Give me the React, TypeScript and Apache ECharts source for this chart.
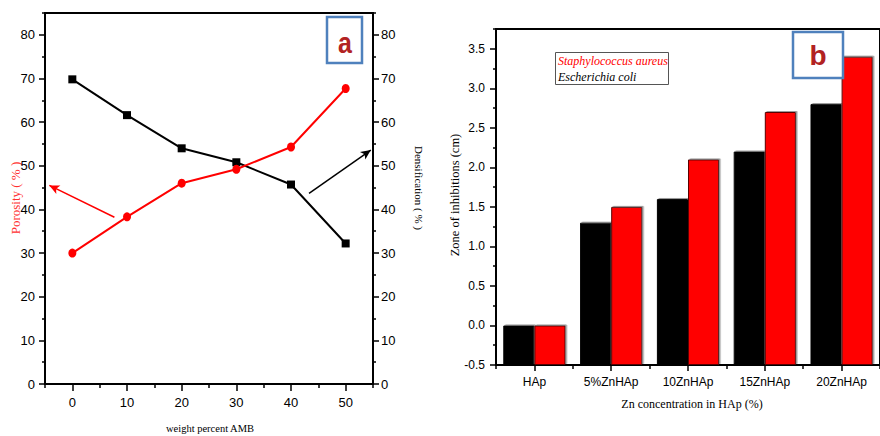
import React, { useEffect, useRef } from "react";
import * as echarts from "echarts";

// ---- Panel (a) data ----
const amb = [0, 10, 20, 30, 40, 50];
const porosity = [30, 38.3, 46, 49.2, 54.3, 67.7];
const densification = [69.8, 61.6, 54, 50.8, 45.7, 32.2];
const aXMajor = [0, 10, 20, 30, 40, 50];
const aXMinor = [-5, 5, 15, 25, 35, 45, 55];
const aYMajor = [0, 10, 20, 30, 40, 50, 60, 70, 80];
const aYMinor = [5, 15, 25, 35, 45, 55, 65, 75, 85];
const redArrow = [[7.7, 38.2], [-4.2, 45.5]];
const blackArrow = [[43.3, 43.7], [54.6, 53.6]];

// ---- Panel (b) data ----
const samples = ["HAp", "5%ZnHAp", "10ZnHAp", "15ZnHAp", "20ZnHAp"];
const eColi = [0, 1.3, 1.6, 2.2, 2.8];
const sAureus = [0, 1.5, 2.1, 2.7, 3.4];
const bYMajor = [-0.5, 0, 0.5, 1.0, 1.5, 2.0, 2.5, 3.0, 3.5];
const bYMinor = [-0.25, 0.25, 0.75, 1.25, 1.75, 2.25, 2.75, 3.25, 3.75];

const NARROW = '"Liberation Sans Narrow", "Arial Narrow", "Liberation Sans", sans-serif';
const SANS = '"Liberation Sans", Arial, sans-serif';
const SERIF = '"Liberation Serif", "Times New Roman", serif';

const axisLine = { show: true, onZero: false, lineStyle: { color: "#000", width: 2 } };

export default function App() {
  const ref = useRef<HTMLDivElement>(null);
  useEffect(() => {
    if (!ref.current) return;
    const chart = echarts.init(ref.current, undefined, { renderer: "svg" });
    const majorTick = (vals: number[], len = 6) => ({
      show: true, inside: false, length: len, customValues: vals,
      lineStyle: { color: "#000", width: 1.5 },
    });
    const option: any = {
      animation: false,
      backgroundColor: "#fff",
      grid: [
        { left: 45, top: 13, width: 328, height: 371, show: true, borderColor: "#000", borderWidth: 2, backgroundColor: "transparent" },
        { left: 496, top: 29, width: 392, height: 336, show: true, borderColor: "#000", borderWidth: 2, backgroundColor: "transparent" },
      ],
      xAxis: [
        {
          gridIndex: 0, type: "value", min: -5, max: 55, position: "bottom",
          axisLine, axisTick: majorTick(aXMajor, 7),
          axisLabel: { customValues: aXMajor, margin: 12, color: "#000", fontFamily: NARROW, fontSize: 13 },
          splitLine: { show: false },
        },
        {
          gridIndex: 0, type: "value", min: -5, max: 55, position: "bottom",
          axisLine: { show: false, onZero: false }, axisTick: majorTick(aXMinor, 4),
          axisLabel: { show: false }, splitLine: { show: false },
        },
        {
          gridIndex: 1, type: "category", data: samples, boundaryGap: true, position: "bottom",
          axisLine, axisTick: { show: true, alignWithLabel: true, length: 6, lineStyle: { color: "#000", width: 1.5 } },
          axisLabel: { margin: 11, color: "#000", fontFamily: SANS, fontSize: 12 },
        },
        {
          gridIndex: 1, type: "category", data: samples, boundaryGap: true, position: "bottom",
          axisLine: { show: false, onZero: false },
          axisTick: { show: true, length: 4, lineStyle: { color: "#000", width: 1.5 } },
          axisLabel: { show: false },
        },
      ],
      yAxis: [
        {
          gridIndex: 0, type: "value", min: 0, max: 85, position: "left",
          axisLine, axisTick: majorTick(aYMajor, 6),
          axisLabel: { customValues: aYMajor, margin: 10, color: "#000", fontFamily: NARROW, fontSize: 13 },
          splitLine: { show: false },
        },
        {
          gridIndex: 0, type: "value", min: 0, max: 85, position: "left",
          axisLine: { show: false, onZero: false }, axisTick: majorTick(aYMinor, 3),
          axisLabel: { show: false }, splitLine: { show: false },
        },
        {
          gridIndex: 0, type: "value", min: 0, max: 85, position: "right",
          axisLine, axisTick: majorTick(aYMajor, 6),
          axisLabel: { customValues: aYMajor, margin: 8, color: "#000", fontFamily: NARROW, fontSize: 13, padding: [0, 0, 5, 0] },
          splitLine: { show: false },
        },
        {
          gridIndex: 0, type: "value", min: 0, max: 85, position: "right",
          axisLine: { show: false, onZero: false }, axisTick: majorTick(aYMinor, 3),
          axisLabel: { show: false }, splitLine: { show: false },
        },
        {
          gridIndex: 1, type: "value", min: -0.5, max: 3.75, startValue: -0.5, position: "left",
          axisLine, axisTick: majorTick(bYMajor, 6),
          axisLabel: {
            customValues: bYMajor, margin: 11, color: "#000", fontFamily: SANS, fontSize: 12,
            formatter: (v: number) => v.toFixed(1),
          },
          splitLine: { show: false },
        },
        {
          gridIndex: 1, type: "value", min: -0.5, max: 3.75, position: "left",
          axisLine: { show: false, onZero: false }, axisTick: majorTick(bYMinor, 3),
          axisLabel: { show: false }, splitLine: { show: false },
        },
      ],
      series: [
        {
          type: "line", xAxisIndex: 0, yAxisIndex: 0, name: "Porosity",
          data: amb.map((x, i) => [x, porosity[i]]),
          symbol: "circle", symbolSize: [8, 9],
          lineStyle: { color: "#ff0000", width: 2 }, itemStyle: { color: "#ff0000" },
          markLine: {
            silent: true, symbol: ["none", "arrow"], symbolSize: [7, 10],
            lineStyle: { color: "#ff0000", width: 1.5, type: "solid" }, label: { show: false },
            data: [[{ coord: redArrow[0] }, { coord: redArrow[1] }]],
          },
          z: 3,
        },
        {
          type: "line", xAxisIndex: 0, yAxisIndex: 2, name: "Densification",
          data: amb.map((x, i) => [x, densification[i]]),
          symbol: "rect", symbolSize: 8,
          lineStyle: { color: "#000", width: 2 }, itemStyle: { color: "#000" },
          markLine: {
            silent: true, symbol: ["none", "arrow"], symbolSize: [7, 10],
            lineStyle: { color: "#000", width: 1.5, type: "solid" }, label: { show: false },
            data: [[{ coord: blackArrow[0] }, { coord: blackArrow[1] }]],
          },
          z: 2,
        },
        {
          type: "bar", xAxisIndex: 2, yAxisIndex: 4, name: "Escherichia coli",
          data: eColi, barGap: "0%", barCategoryGap: "19%",
          itemStyle: { color: "#000", borderColor: "#000", borderWidth: 1, shadowColor: "#9a9a9a", shadowOffsetX: 1.5, shadowOffsetY: -1, shadowBlur: 0 },
        },
        {
          type: "bar", xAxisIndex: 2, yAxisIndex: 4, name: "Staphylococcus aureus",
          data: sAureus, barGap: "0%", barCategoryGap: "19%",
          itemStyle: { color: "#ff0000", borderColor: "#5a0000", borderWidth: 1, shadowColor: "#9a9a9a", shadowOffsetX: 1.5, shadowOffsetY: -1, shadowBlur: 0 },
        },
      ],
      graphic: [
        // panel a label
        { type: "rect", shape: { x: 327, y: 17, width: 35, height: 46 }, style: { fill: "#fff", stroke: "#4f81bd", lineWidth: 2.5 }, z: 50 },
        { type: "text", x: 345, y: 43, scaleY: 1.2, style: { text: "a", fill: "#b22222", fontSize: 25, fontWeight: "bold", fontFamily: SANS, align: "center", verticalAlign: "middle" }, z: 51 },
        // panel b label
        { type: "rect", shape: { x: 793, y: 32, width: 50, height: 46 }, style: { fill: "#fff", stroke: "#4f81bd", lineWidth: 2.5 }, z: 50 },
        { type: "text", x: 818, y: 55, style: { text: "b", fill: "#b22222", fontSize: 28, fontWeight: "bold", fontFamily: SANS, align: "center", verticalAlign: "middle" }, z: 51 },
        // legend box
        { type: "rect", shape: { x: 555.5, y: 52.5, width: 113, height: 32 }, style: { fill: "#fff", stroke: "#555", lineWidth: 1 }, z: 50 },
        { type: "text", x: 558, y: 61, style: { text: "Staphylococcus aureus", fill: "#ff0000", fontSize: 12, fontStyle: "italic", fontFamily: SERIF, align: "left", verticalAlign: "middle" }, z: 51 },
        { type: "text", x: 558, y: 77, style: { text: "Escherichia coli", fill: "#000", fontSize: 12, fontStyle: "italic", fontFamily: SERIF, align: "left", verticalAlign: "middle" }, z: 51 },
        // axis titles
        { type: "text", x: 15, y: 198, rotation: Math.PI / 2, style: { text: "Porosity ( % )", fill: "#ff3030", fontSize: 13, fontFamily: SERIF, align: "center", verticalAlign: "middle" } },
        { type: "text", x: 419, y: 188, rotation: -Math.PI / 2, style: { text: "Densification ( % )", fill: "#000", fontSize: 11, fontFamily: SERIF, align: "center", verticalAlign: "middle" } },
        { type: "text", x: 210, y: 428, style: { text: "weight percent AMB", fill: "#000", fontSize: 10.5, fontFamily: SERIF, align: "center", verticalAlign: "middle" } },
        { type: "text", x: 455, y: 195, rotation: Math.PI / 2, style: { text: "Zone of inhibitions (cm)", fill: "#000", fontSize: 12.5, fontFamily: SERIF, align: "center", verticalAlign: "middle" } },
        { type: "text", x: 692, y: 404, style: { text: "Zn concentration in HAp (%)", fill: "#000", fontSize: 12, fontFamily: SERIF, align: "center", verticalAlign: "middle" } },
      ],
    };
    chart.setOption(option);
    return () => chart.dispose();
  }, []);
  return <div ref={ref} style={{ position: "fixed", left: 0, top: 0, width: 880, height: 436 }} />;
}
